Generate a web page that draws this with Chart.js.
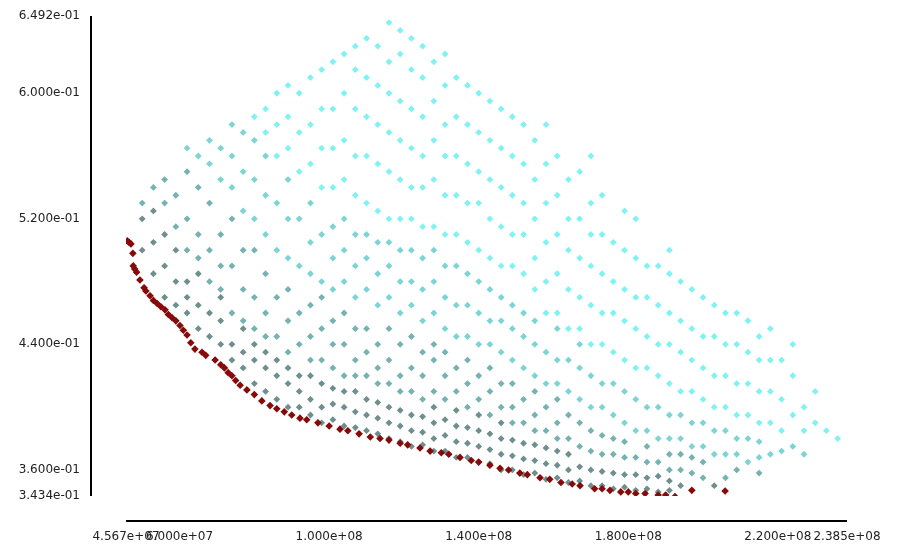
<!DOCTYPE html>
<html>
<head>
<meta charset="utf-8">
<script src="https://cdn.jsdelivr.net/npm/chart.js@4/dist/chart.umd.min.js"></script>
<style>
  body { margin: 0; background: #fff; }
  #wrap { width: 903px; height: 551px; }
</style>
</head>
<body>
<div id="wrap"><canvas id="chart"></canvas></div>
<script>
// x values in millions
const xTicks = [45.67, 60, 100, 140, 180, 220, 238.5];
const yTicks = [0.3434, 0.36, 0.44, 0.52, 0.60, 0.6492];

const frontPts = [
  [46.0,.506],[46.5,.505],[47.0,.504],[47.5,.498],[47.6,.490],[48.5,.486],[49.4,.481],[50.5,.476],
  [52.1,.471],[54,.466],[56.1,.462],[58,.457],[60.1,.452],[62,.446],[64.1,.437],[66,.435],
  [69.5,.430],[72,.425],[74,.420],[76.2,.414],[80,.408],[84.2,.401],[88,.397],[92.2,.393],
  [97,.390],[102.9,.386],[108,.383],[113.6,.380],[119,.377],[124.3,.374],[130,.371],[135,.368],
  [140,.365],[145.7,.361],[151,.358],[156.4,.355],[162,.352],[167.1,.350],[171,.348],[175.1,.347],
  [180,.346],[184.5,.345],[188,.344],[192.5,.343],[197,.347],[205.9,.3466],
  [48,.488],[51,.474],[53,.468],[55,.464],[57,.459],[59,.455],[61,.449],[63,.441],[67,.433],
  [71,.427],[73,.422],[75,.417],[78,.411],[82,.404],[86,.399],[90,.395],[94,.392],[100,.388],
  [105,.385],[111,.381],[116,.379],[121,.376],[127,.372],[132,.370],[138,.366],[143,.363],
  [148,.360],[153,.357],[159,.354],[165,.351],[173,.348],[178,.346],[182,.345],[190,.344]
];

// [x, [y...]] per column
const grayCols = [
  [50,[.50,.52]],[56,[.47,.49,.51]],[62,[.46,.47,.48]],[68,[.445,.46]],[74,[.43,.44]],
  [80,[.415,.43,.44]],[86,[.405,.42,.43]],[92,[.40,.41,.42]],[98,[.39,.40,.415]],
  [104,[.388,.40,.41]],[110,[.385,.395,.405]],[116,[.38,.39,.40]],[122,[.375,.385,.395]],
  [128,[.372,.38,.39,.40]],[134,[.368,.378,.388,.398]],[140,[.365,.375,.385,.395]],
  [146,[.36,.37,.38,.39]],[152,[.357,.367,.377]],[158,[.354,.364,.374]],[164,[.352,.36,.37]],
  [170,[.35,.36]],[176,[.348,.358]],[182,[.347,.357]],[188,[.346,.356]],[194,[.35]],
  [53,[.485,.505,.525]],[59,[.465,.48,.50]],[65,[.45,.465,.485]],[71,[.44,.455,.47]],
  [77,[.425,.435,.45]],[83,[.41,.425,.435]],[89,[.40,.415,.425]],[95,[.395,.405,.42]],
  [101,[.392,.402,.412]],[107,[.387,.397,.41]],[113,[.383,.393,.403]],[119,[.378,.388,.398]],
  [125,[.376,.384,.394]],[131,[.372,.382,.392]],[137,[.368,.377,.387]],[143,[.364,.373,.383]],
  [149,[.36,.369,.379]],[155,[.358,.366,.376]],[161,[.355,.363,.372]],[167,[.353,.362]],
  [173,[.35,.359]],[179,[.349,.357]],[185,[.348,.355]],[191,[.347,.353]],[203,[.35]]
];
const midCols = [
  [50,[.53]],[56,[.53,.545]],[62,[.50,.52,.55]],[68,[.48,.50,.53]],[74,[.46,.49,.52]],
  [80,[.45,.47,.50]],[86,[.445,.47]],[92,[.44,.46]],[98,[.43,.45,.47]],[104,[.42,.44,.46]],
  [110,[.42,.435,.45]],[116,[.415,.43,.45]],[122,[.41,.425,.445]],[128,[.41,.43,.44]],
  [134,[.41,.425]],[140,[.405,.42]],[146,[.40,.415]],[152,[.39,.405]],[158,[.385,.40]],
  [164,[.38,.395]],[170,[.372,.385]],[176,[.37,.38]],[182,[.368]],[188,[.365]],
  [194,[.36,.37]],[200,[.355,.365]],[206,[.355]],
  [53,[.54]],[59,[.515,.535]],[65,[.495,.51,.54]],[71,[.475,.49,.51]],[77,[.455,.475,.50]],
  [83,[.445,.46,.485]],[89,[.435,.455,.475]],[95,[.43,.445,.465]],[101,[.425,.44,.455]],
  [107,[.42,.43,.45]],[113,[.415,.425,.44]],[119,[.41,.42,.44]],[125,[.405,.42,.435]],
  [131,[.405,.42,.435]],[137,[.40,.415,.43]],[143,[.395,.41,.425]],[149,[.39,.40,.415]],
  [155,[.385,.395,.41]],[161,[.38,.39,.405]],[167,[.375,.39]],[173,[.37,.382]],
  [179,[.368,.378]],[185,[.365,.375]],[191,[.36,.37]],[197,[.358,.368]],[209,[.36]],[215,[.358]]
];
const lightCols = [
  [62,[.565]],[68,[.555,.57]],[74,[.54,.56,.58]],[80,[.52,.545,.57]],[86,[.50,.53]],
  [92,[.49,.52]],[98,[.48,.51]],[104,[.48,.50,.52]],[110,[.475,.495,.51]],[116,[.47,.49,.505]],
  [122,[.465,.48,.50]],[128,[.46,.48,.50]],[134,[.445,.465,.49]],[140,[.44,.46,.48]],
  [146,[.435,.455,.47]],[152,[.425,.445,.46]],[158,[.415,.435]],[164,[.41,.43]],[170,[.40,.42]],
  [176,[.395,.415]],[182,[.385,.405]],[188,[.38,.40]],[194,[.38,.395]],[200,[.375,.39]],
  [206,[.37,.385]],[212,[.365,.38]],[218,[.37]],[224,[.375]],
  [65,[.56]],[71,[.545,.565]],[77,[.525,.55,.575]],[83,[.51,.535,.56]],[89,[.495,.52,.545]],
  [95,[.485,.505,.53]],[101,[.475,.495,.515]],[107,[.47,.49,.51]],[113,[.465,.485,.505]],
  [119,[.46,.48,.50]],[125,[.455,.475,.495]],[131,[.45,.47,.49]],[137,[.445,.465,.485]],
  [143,[.44,.455,.475]],[149,[.43,.45,.465]],[155,[.42,.44,.455]],[161,[.415,.43,.45]],
  [167,[.405,.425,.44]],[173,[.40,.415]],[179,[.39,.41]],[185,[.385,.40]],[191,[.38,.395]],
  [197,[.375,.39]],[203,[.37,.385]],[209,[.37,.38]],[215,[.368,.378]],[221,[.372]],[227,[.37]]
];
const cyanCols = [
  [80,[.585]],[86,[.56,.58,.60]],[92,[.55,.575,.60]],[98,[.54,.565,.59,.615]],
  [104,[.545,.57,.60,.625]],[110,[.53,.56,.585,.61,.635]],[116,[.52,.55,.575,.60,.62,.645]],
  [122,[.52,.54,.565,.59,.615,.635]],[128,[.515,.545,.57,.595,.62]],[134,[.51,.535,.56,.585,.61]],
  [140,[.50,.53,.55,.575,.60]],[146,[.49,.515,.54,.565,.59]],[152,[.485,.51,.53,.555,.58]],
  [158,[.46,.48,.505,.53,.555,.58]],[164,[.45,.475,.50,.52,.545]],[170,[.44,.465,.49,.51,.53,.56]],
  [176,[.435,.46,.48,.505]],[182,[.425,.45,.47,.495,.52]],[188,[.42,.44,.465,.49]],
  [194,[.41,.435,.455,.48]],[200,[.405,.425,.445,.47]],[206,[.40,.42,.44,.46]],
  [212,[.395,.415,.435,.455]],[218,[.39,.41,.43,.45]],[224,[.395,.42,.44]],[230,[.39,.41]],[236,[.38]],
  [83,[.575,.59]],[89,[.565,.585,.605]],[95,[.555,.58,.61]],[101,[.54,.565,.59,.62]],
  [107,[.535,.56,.59,.615,.63]],[113,[.525,.555,.58,.605,.63]],[119,[.52,.545,.57,.595,.625,.64]],
  [125,[.515,.54,.56,.585,.61,.63]],[131,[.51,.535,.56,.58,.605,.625]],[137,[.505,.53,.555,.58,.605]],
  [143,[.495,.52,.545,.57,.595]],[149,[.49,.51,.535,.56,.585]],[155,[.475,.495,.52,.545,.57]],
  [161,[.46,.485,.51,.535,.56]],[167,[.45,.47,.495,.52,.55]],[173,[.44,.46,.485,.51,.535]],
  [179,[.43,.455,.475,.50,.525]],[185,[.425,.445,.47,.49]],[191,[.415,.44,.46,.485,.50]],
  [197,[.41,.43,.45,.475]],[203,[.40,.42,.445,.465]],[209,[.395,.415,.44,.46]],
  [215,[.39,.41,.43,.445]],[221,[.385,.405,.43]],[227,[.385,.40]],[233,[.385]]
];

function colsToPts(cols) {
  const out = [];
  cols.forEach(c => c[1].forEach(y => out.push({ x: c[0], y: y })));
  return out;
}

function fmt(v) {
  const s = v.toExponential(3);
  return s.replace(/e([+-])(\d)$/, "e$10$2");
}

function makeSet(data, color, order, r) {
  return {
    data: data,
    backgroundColor: color,
    borderWidth: 0,
    pointStyle: "rectRot",
    pointRadius: r,
    order: order,
  };
}

// detached axis lines like the original
const axisLines = {
  id: "axisLines",
  afterDraw(chart) {
    const a = chart.chartArea, ctx = chart.ctx;
    ctx.save();
    ctx.strokeStyle = "#000";
    ctx.lineWidth = 2;
    ctx.beginPath();
    ctx.moveTo(a.left - 35, a.top);
    ctx.lineTo(a.left - 35, a.bottom);
    ctx.moveTo(a.left, a.bottom + 25);
    ctx.lineTo(a.right, a.bottom + 25);
    ctx.stroke();
    ctx.restore();
  }
};

Chart.defaults.font.family = "DejaVu Sans";
Chart.defaults.font.size = 12;
Chart.defaults.color = "#222";

new Chart(document.getElementById("chart").getContext("2d"), {
  type: "scatter",
  data: {
    datasets: [
      makeSet(frontPts.map(p => ({ x: p[0], y: p[1] })), "#870a0a", 1, 3.8),
      makeSet(colsToPts(grayCols), "#6f8f8f", 2, 3.4),
      makeSet(colsToPts(midCols), "#76b2b2", 3, 3.4),
      makeSet(colsToPts(lightCols), "#7cd4d4", 4, 3.4),
      makeSet(colsToPts(cyanCols), "#80f2f2", 5, 3.4),
    ],
  },
  options: {
    responsive: true,
    maintainAspectRatio: false,
    animation: false,
    layout: { padding: { top: 16, right: 56, left: 0, bottom: 0 } },
    plugins: { legend: { display: false }, tooltip: { enabled: false } },
    scales: {
      x: {
        min: xTicks[0], max: xTicks[xTicks.length - 1],
        afterBuildTicks: s => { s.ticks = xTicks.map(v => ({ value: v })); },
        afterFit: s => { s.height = 55; s.paddingLeft = 0; s.paddingRight = 0; },
        grid: { display: false, drawTicks: false },
        border: { display: false },
        ticks: { padding: 34, maxRotation: 0, autoSkip: false, callback: v => fmt(v * 1e6) },
      },
      y: {
        min: yTicks[0], max: yTicks[yTicks.length - 1],
        afterBuildTicks: s => { s.ticks = yTicks.map(v => ({ value: v })); },
        afterFit: s => { s.width = 126; s.paddingTop = 0; s.paddingBottom = 0; },
        grid: { display: false, drawTicks: false },
        border: { display: false },
        ticks: { padding: 46, autoSkip: false, callback: v => fmt(v) },
      },
    },
  },
  plugins: [axisLines],
});
</script>
</body>
</html>
